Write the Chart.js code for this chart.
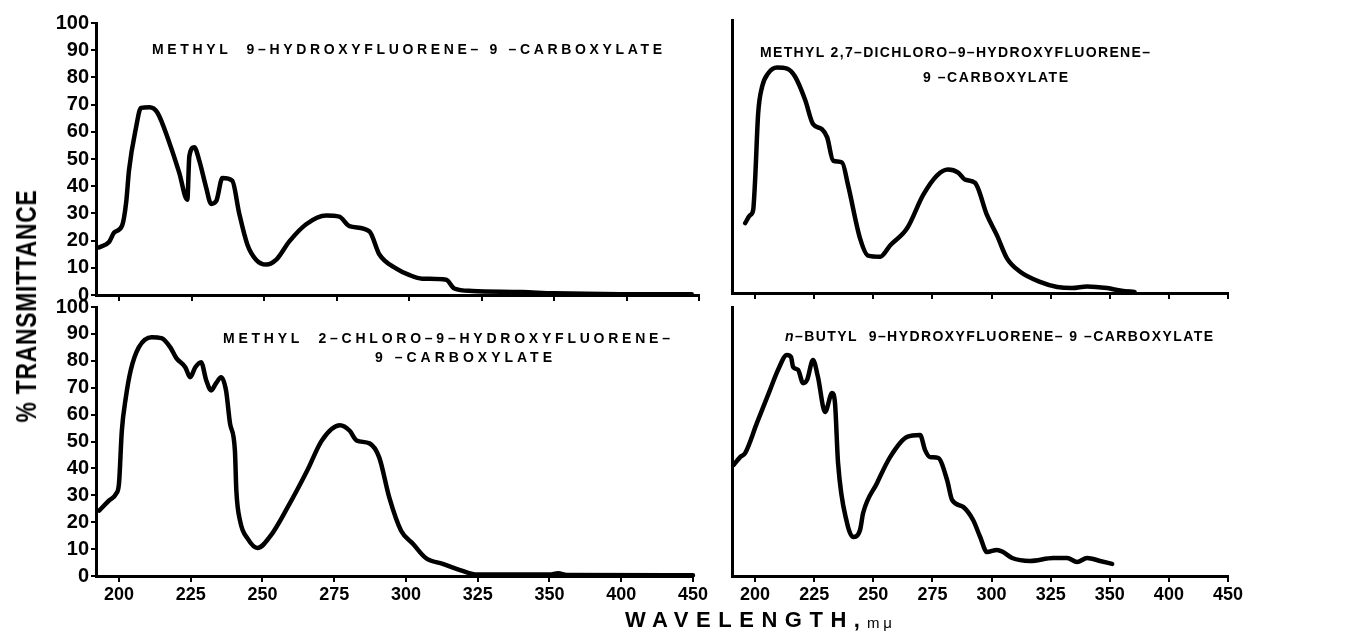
<!DOCTYPE html>
<html><head><meta charset="utf-8">
<script src="https://cdn.jsdelivr.net/npm/chart.js@4"></script>
<style>
html,body{margin:0;padding:0;background:#fff;width:1365px;height:637px;overflow:hidden;position:relative;font-family:"Liberation Sans",Arial,sans-serif;}
canvas{position:absolute;}
.t{position:absolute;white-space:nowrap;font-weight:bold;line-height:1;color:#000;}
</style></head><body>
<canvas id="c1" width="710" height="310" style="left:0;top:0"></canvas>
<canvas id="c2" width="655" height="310" style="left:710px;top:0"></canvas>
<canvas id="c3" width="710" height="347" style="left:0;top:290px"></canvas>
<canvas id="c4" width="655" height="347" style="left:710px;top:290px"></canvas>
<script>
// ---- data ----
const X_TICKS = [200, 225, 250, 275, 300, 325, 350, 400, 450];
const Y_TICKS = [0, 10, 20, 30, 40, 50, 60, 70, 80, 90, 100];

// Methyl 9-hydroxyfluorene-9-carboxylate
const wlA = [193,196.5,198.3,201,202.4,203.4,205.8,207.5,210.4,213.2,217.3,220.7,223.5,224.2,225.9,227.6,230,231.7,233.5,235.6,239,241.4,244.2,247.2,250.7,254.2,258.7,264.5,271.4,275.9,279.4,286.3,289.7,295.6,300,304.5,312.8,315.6,321.8,339,350,396,445];
const trA = [17.5,19.5,23,25.5,34,46,61.5,68.8,69,67,56,45,35,51,54.3,49.5,39.5,33.5,34.6,43,42,30,18.6,13,11.2,13,19.7,26,29.2,28.8,25.3,23.4,15,9.7,7.4,6,5.6,2.4,1.5,1.1,0.6,0.3,0.3];

// Methyl 2,7-dichloro-9-hydroxyfluorene-9-carboxylate
const wlB = [195.8,197.9,199.2,200,201.3,203,205.5,209.3,213.5,216.9,221.2,224.5,228.3,230.5,233,236.8,239.3,244.4,247.8,252.9,257.1,264.3,271.1,276.9,281.6,285.9,288.8,293,298.1,302.3,306.6,312.1,320.5,327.8,334,340.4,348.9,360,371];
const trB = [25.6,28.5,30.4,41,65.6,75.6,80.4,82.6,82.2,79.3,70.7,61.9,60,57,48.5,47.8,39.6,20,13.7,13.3,17.4,23.7,35.9,43,45.2,44.1,41.5,40.4,28.5,21.1,12.6,7.8,4.1,2.2,1.8,2.4,1.8,0.8,0.4];

// Methyl 2-chloro-9-hydroxyfluorene-9-carboxylate
const wlC = [193.1,196.5,199,200,201,202.4,204.1,206.9,211.4,214.8,217.9,220,223.1,224.8,226.6,228.6,230.4,232.1,233.8,235.6,237.3,238.7,240.4,240.9,242.2,244.9,248.3,252.8,258.7,265.6,270.7,277,280.4,282.8,287.3,290.7,294.2,298.3,302.5,306.9,312.8,319.7,324.2,350,356,362,450];
const trC = [24.3,28,30.6,34.3,54,66.4,76.5,85,88.8,88.4,85,81,77.6,73.9,77.6,79.5,72.8,69,71.6,73.9,69,56.7,46.6,31.7,20.5,13.8,10.4,14.9,25.4,39.2,50.4,56,54,50.4,49.3,44,29.1,16.8,11.9,6.7,4.5,1.9,0.6,0.6,1,0.4,0.3];

// n-Butyl 9-hydroxyfluorene-9-carboxylate
const wlD = [191,193.7,195.8,200.8,206.3,209.7,213.5,215.2,216.1,218.2,220.3,222,224.5,226.6,229.6,232.6,233.8,235.1,238.9,241.5,244.4,245.7,251.6,257.1,264.3,269.8,271.9,274,277.4,281.2,283.3,288,292.2,295.2,298.1,302.3,304.9,308.7,316.3,326.1,332,336.2,340.4,345.9,352];
const trD = [41.3,44.2,45.7,56.9,69.1,76.6,82.2,81.4,77.7,76.6,71.7,72.9,80.3,74,61,68,64.3,42,19.7,14.5,17.1,23.4,34.6,44.2,51.7,52.4,46.8,44.2,43.9,35.7,28.3,25.7,20.8,14.5,8.9,9.7,8.9,6.7,5.6,6.7,6.7,5.2,6.7,5.6,4.5];

// wavelength axis: 25 nm per division up to 350, 50 nm per division above
function idx(w){ return w <= 350 ? (w - 200) / 25 : 6 + (w - 350) / 50; }

function makeChart(id, wl, tr, cfg){
  new Chart(document.getElementById(id), {
    type: 'line',
    data: { datasets: [{
      data: wl.map((w, i) => ({ x: idx(w), y: tr[i] })),
      borderColor: '#000', borderWidth: 4.5, pointRadius: 0,
      cubicInterpolationMode: 'monotone', borderJoinStyle: 'round', borderCapStyle: 'round',
      fill: false, clip: 8
    }]},
    options: {
      responsive: false, animation: false, events: [],
      layout: { padding: { top: cfg.top, right: cfg.right, left: 0, bottom: 0 } },
      plugins: { legend: { display: false }, tooltip: { enabled: false } },
      scales: {
        x: {
          type: 'linear', min: cfg.xmin, max: idx(450),
          afterBuildTicks: s => { s.ticks = X_TICKS.map(w => ({ value: idx(w) })); },
          afterFit: s => { s.height = cfg.xh; },
          ticks: { display: cfg.xlabels, autoSkip: false, maxRotation: 0, padding: 2, color: '#000',
                   font: { size: 18, weight: 'bold', family: '"Liberation Sans", Arial, sans-serif' },
                   callback: (v, i) => X_TICKS[i] },
          grid: { display: true, drawOnChartArea: false, drawTicks: true, tickLength: 6, color: '#000', lineWidth: 2 },
          border: { display: true, color: '#000', width: 3 }
        },
        y: {
          type: 'linear', min: 0, max: 100,
          afterBuildTicks: s => { s.ticks = Y_TICKS.map(v => ({ value: v })); },
          afterFit: s => { s.width = cfg.yw; },
          ticks: { display: cfg.ylabels, autoSkip: false, padding: 2, color: '#000',
                   font: { size: 20, weight: 'bold', family: '"Liberation Sans", Arial, sans-serif' },
                   callback: v => v },
          grid: { display: cfg.ylabels, drawOnChartArea: false, drawTicks: true, tickLength: 5, color: '#000', lineWidth: 2 },
          border: { display: true, color: '#000', width: 3 }
        }
      }
    }
  });
}

makeChart('c1', wlA, trA, { top: 23, right: 11, yw: 96, xh: 15, xmin: -0.32, xlabels: false, ylabels: true });
makeChart('c2', wlB, trB, { top: 20, right: 137, yw: 22, xh: 17, xmin: -0.39, xlabels: false, ylabels: false });
makeChart('c3', wlC, trC, { top: 17, right: 11, yw: 96, xh: 61, xmin: -0.32, xlabels: true, ylabels: true });
makeChart('c4', wlD, trD, { top: 17, right: 137, yw: 22, xh: 61, xmin: -0.39, xlabels: true, ylabels: false });

// ---- text ----
function place(html, x0, x1, cy, size, extra){
  const el = document.createElement('div');
  el.className = 't';
  el.style.fontSize = size + 'px';
  if (extra && extra.weight) el.style.fontWeight = extra.weight;
  el.innerHTML = html;
  document.body.appendChild(el);
  const r = el.getBoundingClientRect();
  const n = el.textContent.length;
  const ls = (x1 - x0 - r.width) / Math.max(1, n - 1);
  el.style.letterSpacing = ls + 'px';
  el.style.left = x0 + 'px';
  el.style.top = (cy - r.height / 2) + 'px';
  return el;
}
place('METHYL&nbsp; 9–HYDROXYFLUORENE– 9 –CARBOXYLATE', 152, 662, 49, 14);
place('METHYL 2,7–DICHLORO–9–HYDROXYFLUORENE–', 760, 1150, 52, 14);
place('9 –CARBOXYLATE', 923, 1068, 77, 14);
place('METHYL&nbsp; 2–CHLORO–9–HYDROXYFLUORENE–', 223, 670, 338, 14);
place('9 –CARBOXYLATE', 375, 552, 357, 14);
place('<i>n</i>–BUTYL&nbsp; 9–HYDROXYFLUORENE– 9 –CARBOXYLATE', 785, 1213, 336, 14);
place('WAVELENGTH,', 625, 860, 620, 22);
place('m μ', 867, 892, 622.6, 15, { weight: 'normal' });

// y title, rotated and horizontally condensed to fit
(function(){
  const el = document.createElement('div');
  el.className = 't';
  el.style.fontSize = '30px';
  el.style.letterSpacing = '1px';
  el.textContent = '% TRANSMITTANCE';
  document.body.appendChild(el);
  const r = el.getBoundingClientRect();
  const k = 233 / r.width;
  el.style.left = (26 - r.width / 2) + 'px';
  el.style.top = (306 - r.height / 2) + 'px';
  el.style.transformOrigin = 'center center';
  el.style.transform = 'rotate(-90deg) scaleX(' + k + ')';
})();
</script>
</body></html>
